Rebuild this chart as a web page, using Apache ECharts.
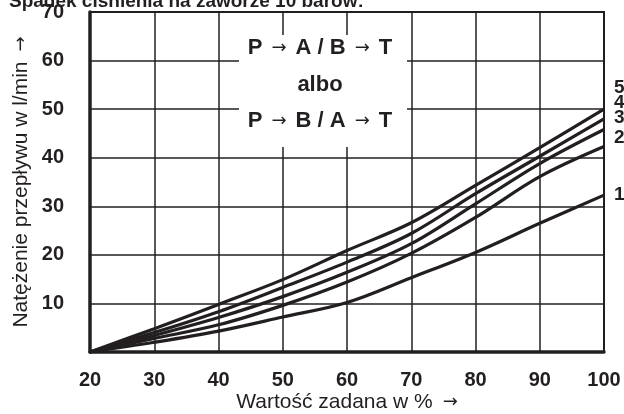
<!DOCTYPE html>
<html><head><meta charset="utf-8">
<script src="https://cdn.jsdelivr.net/npm/echarts@6/dist/echarts.min.js"></script>
<style>html,body{margin:0;padding:0;background:#fff}#c{width:624px;height:414px}</style>
</head><body><div id="c"></div>
<script>
const xValues = [20, 30, 40, 50, 60, 70, 80, 90, 100];
const curve5 = [0, 4.8, 9.8, 14.9, 20.9, 26.6, 34.3, 42.1, 50.0];
const curve4 = [0, 4.0, 8.3, 13.3, 18.5, 24.4, 32.6, 40.3, 48.0];
const curve3 = [0, 3.4, 7.1, 11.4, 16.4, 22.3, 30.5, 38.8, 45.8];
const curve2 = [0, 2.8, 5.6, 9.6, 14.4, 20.3, 27.7, 36.1, 42.3];
const curve1 = [0, 2.0, 4.3, 7.2, 10.2, 15.3, 20.5, 26.5, 32.3];
const curveNames = ['5', '4', '3', '2', '1'];
const titleText = 'Spadek ciśnienia na zaworze 10 barów:';
const xName = 'Wartość zadana w %';
const yName = 'Natężenie przepływu w l/min';
const arrow = '\u2192';
const boxLines = [['P', 'A / B', 'T'], ['albo'], ['P', 'B / A', 'T']];

const ink = '#231f20';
const sans = '"Liberation Sans", Arial, sans-serif';
const labelOffsets = [[2, -21], [2, -16], [2, -12], [2, -9], [2, 0]];
const allCurves = [curve5, curve4, curve3, curve2, curve1];

function boxText(parts) {
  if (parts.length === 1) return '{t|' + parts[0] + '}';
  return '{t|' + parts[0] + '}{a|' + arrow + '}{t|' + parts[1] + '}{a|' + arrow + '}{t|' + parts[2] + '}';
}
const boxRich = {
  t: {fontFamily: sans, fontWeight: 'bold', fontSize: 22, fill: ink, color: ink},
  a: {fontFamily: '"DejaVu Sans", sans-serif', fontWeight: 'normal', fontSize: 18, fill: ink, color: ink, padding: [0, 9]}
};
const nameRich = {
  t: {fontFamily: sans, fontSize: 21, color: ink},
  a: {fontFamily: '"DejaVu Sans", sans-serif', fontSize: 18, color: ink, padding: [0, 0, 0, 10]}
};

const chart = echarts.init(document.getElementById('c'), null, {renderer: 'canvas'});
chart.setOption({
  animation: false,
  title: {
    text: titleText, left: 4, top: -13,
    textStyle: {fontFamily: sans, fontWeight: 'bold', fontSize: 19, color: ink}
  },
  grid: {left: 90, right: 20, top: 12, bottom: 62, outerBoundsMode: 'none', containLabel: false,
    show: true, borderColor: ink, borderWidth: 2, backgroundColor: 'transparent'},
  xAxis: {
    type: 'value', min: 20, max: 100, interval: 10,
    name: '{t|' + xName + '}{a|' + arrow + '}', nameLocation: 'middle', nameGap: 40, nameMoveOverlap: false,
    nameTextStyle: {rich: nameRich},
    axisLine: {show: true, lineStyle: {color: ink, width: 3.5}},
    axisTick: {show: false},
    axisLabel: {margin: 18, fontFamily: sans, fontWeight: 'bold', fontSize: 20, color: ink},
    splitLine: {show: true, lineStyle: {color: ink, width: 1.5}}
  },
  yAxis: {
    type: 'value', min: 0, max: 70, interval: 10,
    name: '{t|' + yName + '}{a|' + arrow + '}', nameLocation: 'middle', nameGap: 58, nameRotate: 90, nameMoveOverlap: false,
    nameTextStyle: {rich: nameRich},
    axisLine: {show: true, lineStyle: {color: ink, width: 3.5}},
    axisTick: {show: false},
    axisLabel: {margin: 26, fontFamily: sans, fontWeight: 'bold', fontSize: 20, color: ink,
      formatter: v => v === 0 ? '' : String(v)},
    splitLine: {show: true, lineStyle: {color: ink, width: 1.5}}
  },
  series: allCurves.map((c, i) => ({
    type: 'line', name: curveNames[i],
    data: xValues.map((x, j) => [x, c[j]]),
    smooth: 0.35, symbol: 'none',
    lineStyle: {color: ink, width: 3.2},
    endLabel: {show: true, formatter: curveNames[i], offset: labelOffsets[i],
      fontFamily: sans, fontWeight: 'bold', fontSize: 19, color: ink},
    z: 3
  })),
  graphic: [
    {type: 'rect', shape: {x: 239, y: 35, width: 168, height: 112}, style: {fill: '#fff'}, z: 10}
  ].concat(boxLines.map((parts, i) => ({
    type: 'text', x: 320, y: [48, 85, 121][i], z: 11,
    style: {text: boxText(parts), rich: boxRich, align: 'center', verticalAlign: 'middle'}
  })))
});
</script></body></html>
